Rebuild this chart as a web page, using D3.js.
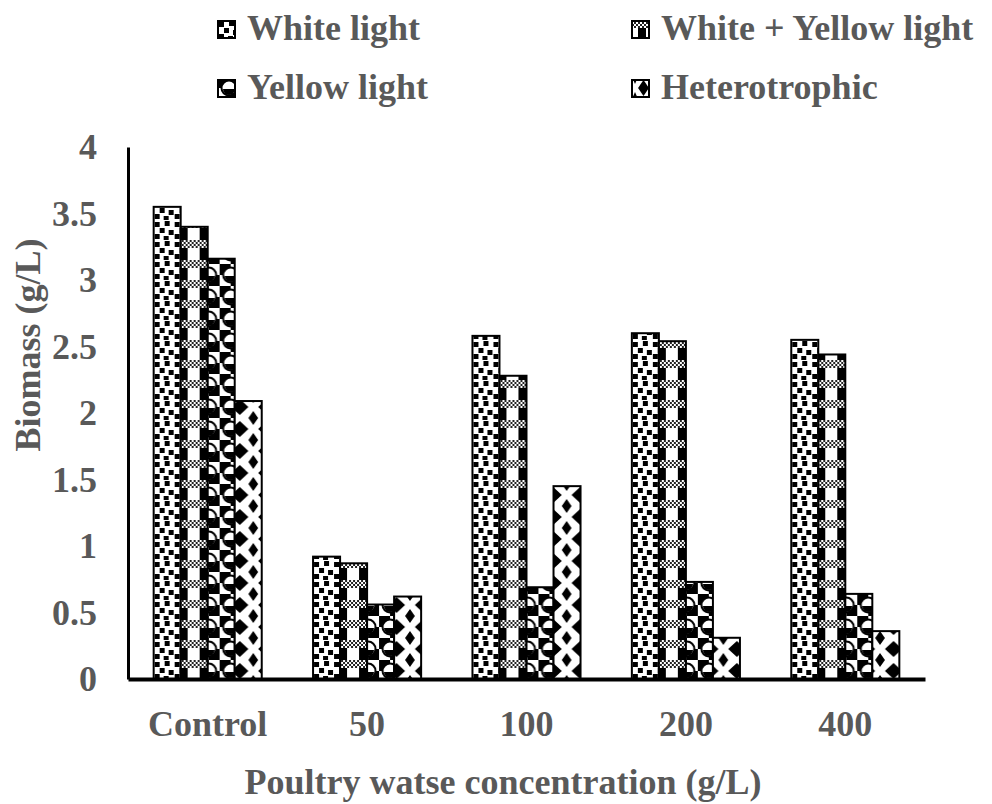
<!DOCTYPE html>
<html>
<head>
<meta charset="utf-8">
<script src="https://cdn.jsdelivr.net/npm/d3@7"></script>
<style>
  body { margin: 0; background: #fff; }
  text { font-family: "Liberation Serif", "Times New Roman", serif; font-weight: bold; fill: #595959; }
</style>
</head>
<body>
<svg id="chart"></svg>
<script>
const categories = ['Control', '50', '100', '200', '400'];
const seriesNames = ['White light', 'White + Yellow light', 'Yellow light', 'Heterotrophic'];
const whiteLight = [3.55, 0.92, 2.58, 2.60, 2.55];
const whiteYellowLight = [3.40, 0.87, 2.28, 2.54, 2.44];
const yellowLight = [3.16, 0.56, 0.69, 0.73, 0.64];
const heterotrophic = [2.09, 0.62, 1.45, 0.31, 0.36];
const yTicks = [0, 0.5, 1, 1.5, 2, 2.5, 3, 3.5, 4];

const seriesValues = [whiteLight, whiteYellowLight, yellowLight, heterotrophic];

const width = 992;
const height = 804;

const svg = d3.select('#chart')
    .attr('width', width)
    .attr('height', height);

const x0 = d3.scaleBand()
    .domain(categories)
    .range([128, 925])
    .paddingInner(0.322)
    .paddingOuter(0.161);

const x1 = d3.scaleBand()
    .domain(seriesNames)
    .range([0, x0.bandwidth()]);

const y = d3.scaleLinear()
    .domain([0, 4])
    .range([679, 147]);

const bw = x1.bandwidth();

// hatch patterns
const defs = svg.append('defs');

// confetti squares
const p0 = defs.append('pattern').attr('id', 'pat0')
    .attr('patternUnits', 'userSpaceOnUse').attr('width', 20).attr('height', 20);
p0.append('rect').attr('width', 20).attr('height', 20).attr('fill', '#fff');
[[1, 2], [11, 1], [6, 8], [15, 10], [1, 14], [10, 16]].forEach(([a, b]) => {
    p0.append('rect').attr('x', a).attr('y', b).attr('width', 5).attr('height', 5).attr('fill', '#000');
});

// black column with checker bands
const p1 = defs.append('pattern').attr('id', 'pat1')
    .attr('patternUnits', 'userSpaceOnUse').attr('width', 20).attr('height', 20);
p1.append('rect').attr('width', 20).attr('height', 20).attr('fill', '#fff');
p1.append('rect').attr('x', 6).attr('width', 8).attr('height', 20).attr('fill', '#000');
p1.append('rect').attr('width', 20).attr('height', 8).attr('fill', '#fff');
for (let i = 0; i < 10; i++) {
    for (let j = 0; j < 4; j++) {
        if ((i + j) % 2 === 0) {
            p1.append('rect').attr('x', i * 2).attr('y', j * 2).attr('width', 2).attr('height', 2).attr('fill', '#222');
        }
    }
}

// spheres
const p2 = defs.append('pattern').attr('id', 'pat2')
    .attr('patternUnits', 'userSpaceOnUse').attr('width', 22).attr('height', 22);
p2.append('rect').attr('width', 22).attr('height', 22).attr('fill', '#fff');
p2.append('rect').attr('width', 11).attr('height', 11).attr('fill', '#000');
p2.append('rect').attr('x', 11).attr('y', 11).attr('width', 11).attr('height', 11).attr('fill', '#000');
p2.append('circle').attr('cx', 11).attr('cy', 11).attr('r', 7.5).attr('fill', '#fff').attr('stroke', '#000').attr('stroke-width', 2);
p2.append('path').attr('d', 'M5,12 A6,6 0 0 0 17,12 Z').attr('fill', '#000');

// diamonds, one per bar so each is centred in its bar
function diamondPattern(id, px, w) {
    const p = defs.append('pattern').attr('id', id)
        .attr('patternUnits', 'userSpaceOnUse').attr('x', px).attr('y', 0)
        .attr('width', w).attr('height', 22);
    p.append('rect').attr('width', w).attr('height', 22).attr('fill', '#fff');
    const c = w / 2;
    const hw = w * 0.32;
    p.append('path').attr('d', `M${c},3 L${c + hw},11 L${c},19 L${c - hw},11 Z`).attr('fill', '#000');
    const ew = w * 0.18;
    p.append('path').attr('d',
        `M0,-7 L${ew},0 L0,7 Z M${w},-7 L${w - ew},0 L${w},7 Z ` +
        `M0,15 L${ew},22 L0,29 Z M${w},15 L${w - ew},22 L${w},29 Z`).attr('fill', '#000');
}
categories.forEach((c, ci) => diamondPattern('pat3_' + ci, x0(c) + x1(seriesNames[3]), bw));
diamondPattern('pat3_leg', 632, 17);

const fillFor = (si, ci) => si === 3 ? `url(#pat3_${ci})` : `url(#pat${si})`;

// bars
const groups = svg.append('g').selectAll('g')
    .data(categories)
    .join('g')
    .attr('transform', d => `translate(${x0(d)},0)`);

groups.selectAll('rect')
    .data((c, ci) => seriesNames.map((s, si) => ({ s, si, ci, v: seriesValues[si][ci] })))
    .join('rect')
    .attr('x', d => x1(d.s))
    .attr('y', d => y(d.v))
    .attr('width', bw)
    .attr('height', d => y(0) - y(d.v))
    .attr('fill', d => fillFor(d.si, d.ci))
    .attr('stroke', '#000')
    .attr('stroke-width', 2);

// axes
const yAxis = svg.append('g')
    .attr('transform', 'translate(128,0)')
    .call(d3.axisLeft(y).tickValues(yTicks).tickSize(0).tickPadding(31).tickFormat(d => String(d)));
yAxis.select('.domain').attr('stroke', '#000').attr('stroke-width', 3);
yAxis.selectAll('text').style('font-size', '36px').attr('fill', '#595959');

const xAxis = svg.append('g')
    .attr('transform', 'translate(0,679)')
    .call(d3.axisBottom(x0).tickSize(0).tickSizeOuter(0));
xAxis.select('.domain').attr('stroke', '#000').attr('stroke-width', 4);
xAxis.selectAll('text').style('font-size', '36px').attr('fill', '#595959')
    .attr('dy', null).attr('y', 57);

// axis titles
svg.append('text')
    .attr('transform', 'translate(40,345) rotate(-90)')
    .attr('text-anchor', 'middle')
    .style('font-size', '36px')
    .text('Biomass (g/L)');

svg.append('text')
    .attr('x', 503)
    .attr('y', 794)
    .attr('text-anchor', 'middle')
    .style('font-size', '36px')
    .text('Poultry watse concentration (g/L)');

// legend
const legendX = [218, 632];
const legendY = [40, 99];
const legend = svg.append('g').selectAll('g')
    .data(seriesNames)
    .join('g')
    .attr('transform', (d, i) => `translate(${legendX[i % 2]},${legendY[Math.floor(i / 2)]})`);

legend.append('rect')
    .attr('x', 0)
    .attr('y', -19)
    .attr('width', 17)
    .attr('height', 17)
    .attr('fill', (d, i) => i === 3 ? 'url(#pat3_leg)' : `url(#pat${i})`)
    .attr('stroke', '#000')
    .attr('stroke-width', 2);

legend.append('text')
    .attr('x', 29)
    .attr('y', 0)
    .style('font-size', '36px')
    .text(d => d);
</script>
</body>
</html>
